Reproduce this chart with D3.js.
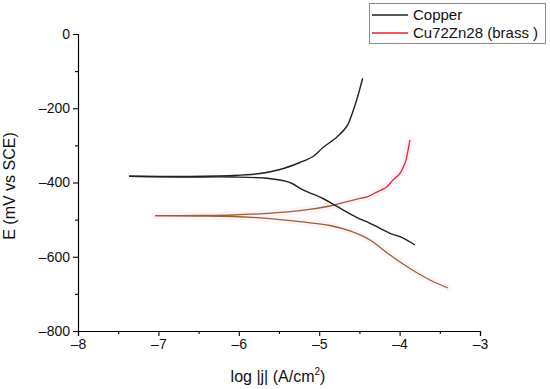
<!DOCTYPE html>
<html>
<head>
<meta charset="utf-8">
<script src="https://cdn.jsdelivr.net/npm/d3@7"></script>
<style>
  html, body { margin: 0; padding: 0; background: #fff; }
  svg { display: block; font-family: "Liberation Sans", Arial, sans-serif; }
</style>
</head>
<body>
<svg id="chart" width="550" height="389"></svg>
<script>
// ---- data (log |j| in A/cm², E in mV vs SCE) ----
const copperAnodicLogJ = [-7.366, -6.731, -6.072, -5.736, -5.488, -5.239, -5.077, -4.953, -4.779, -4.654, -4.604, -4.534, -4.459];
const copperAnodicE    = [-383.3, -383.8, -381.1, -375.8, -365.0, -346.1, -330.0, -305.7, -277.4, -247.8, -222.8, -177.8, -119.3];
const copperCathodicLogJ = [-7.366, -6.731, -6.072, -5.649, -5.400, -5.338, -5.201, -4.953, -4.779, -4.530, -4.368, -4.244, -4.119, -3.995, -3.808];
const copperCathodicE    = [-383.3, -385.2, -385.2, -388.7, -397.8, -402.7, -420.2, -443.1, -464.6, -494.3, -509.9, -523.4, -536.8, -546.0, -568.4];
const brassAnodicLogJ = [-7.042, -6.483, -6.072, -5.649, -5.239, -4.866, -4.654, -4.493, -4.405, -4.244, -4.157, -4.082, -3.995, -3.933, -3.902, -3.883, -3.871];
const brassAnodicE    = [-489.4, -488.9, -487.5, -483.0, -476.0, -463.3, -451.7, -442.6, -439.1, -421.5, -411.3, -393.3, -375.2, -348.3, -321.3, -299.0, -285.5];
const brassCathodicLogJ = [-7.042, -6.483, -6.072, -5.649, -5.239, -4.866, -4.617, -4.368, -4.119, -3.871, -3.622, -3.398];
const brassCathodicE    = [-489.4, -490.2, -491.6, -496.4, -505.6, -515.8, -530.6, -554.9, -595.3, -631.6, -662.6, -684.2];
const brassRedFromLogJ = -4.49;

const xTicks = [-8, -7, -6, -5, -4, -3];
const xMinorTicks = [-7.5, -6.5, -5.5, -4.5, -3.5];
const yTicks = [0, -200, -400, -600, -800];
const yMinorTicks = [-100, -300, -500, -700];
const seriesNames = ["Copper", "Cu72Zn28 (brass )"];
const xTitle = "log |j| (A/cm";
const yTitle = "E (mV vs SCE)";

// ---- drawing ----
const svg = d3.select("#chart");
const x = d3.scaleLinear().domain([-8, -3]).range([78, 480]);
const y = d3.scaleLinear().domain([-800, 0]).range([331, 34]);
const fmt = d => (d < 0 ? "\u2013" + Math.abs(d) : String(d));

const zip = (a, b) => a.map((v, i) => [v, b[i]]);
const lineY = d3.line().x(d => x(d[0])).y(d => y(d[1])).curve(d3.curveCatmullRom.alpha(0.5));

const cuA = zip(copperAnodicLogJ, copperAnodicE);
const cuC = zip(copperCathodicLogJ, copperCathodicE);
const brA = zip(brassAnodicLogJ, brassAnodicE);
const brC = zip(brassCathodicLogJ, brassCathodicE);
const brABrown = brA.filter(d => d[0] <= brassRedFromLogJ + 0.09);
const brARed = brA.filter(d => d[0] >= brassRedFromLogJ);

const plot = svg.append("g");
// very faint pink halo around brass curves
[brA, brC].forEach(d => plot.append("path").datum(d).attr("d", lineY)
  .attr("fill", "none").attr("stroke", "#fef3f8").attr("stroke-width", 7).attr("stroke-linecap", "round"));

plot.append("path").datum(brC).attr("d", lineY).attr("fill", "none").attr("stroke", "#9a6232").attr("stroke-width", 1.3);
plot.append("path").datum(brABrown).attr("d", lineY).attr("fill", "none").attr("stroke", "#9a6232").attr("stroke-width", 1.3);
plot.append("path").datum(brARed).attr("d", lineY).attr("fill", "none").attr("stroke", "#e8242a").attr("stroke-width", 1.3);
plot.append("path").datum(cuC).attr("d", lineY).attr("fill", "none").attr("stroke", "#222").attr("stroke-width", 1.4);
plot.append("path").datum(cuA).attr("d", lineY).attr("fill", "none").attr("stroke", "#222").attr("stroke-width", 1.4);

// axes
svg.append("g").attr("transform", `translate(0,${y(-800)})`)
  .call(d3.axisBottom(x).tickValues(xTicks).tickFormat(fmt).tickSizeOuter(0).tickSize(5).tickPadding(3));
svg.append("g").attr("transform", `translate(0,${y(-800)})`)
  .call(d3.axisBottom(x).tickValues(xMinorTicks).tickFormat("").tickSizeOuter(0).tickSize(3))
  .select(".domain").remove();
svg.append("g").attr("transform", `translate(${x(-8)},0)`)
  .call(d3.axisLeft(y).tickValues(yTicks).tickFormat(fmt).tickSizeOuter(0).tickSize(5).tickPadding(3));
svg.append("g").attr("transform", `translate(${x(-8)},0)`)
  .call(d3.axisLeft(y).tickValues(yMinorTicks).tickFormat("").tickSizeOuter(0).tickSize(3))
  .select(".domain").remove();
svg.selectAll(".domain").attr("stroke", "#000").attr("stroke-width", 1.2);
svg.selectAll(".tick line").attr("stroke", "#000").attr("stroke-width", 1.1);
svg.selectAll(".tick text").attr("font-size", 14).attr("fill", "#111")
  .attr("font-family", "'Liberation Sans', Arial, sans-serif");

// titles
const xt = svg.append("text").attr("x", 278).attr("y", 382).attr("text-anchor", "middle")
  .attr("font-size", 16).attr("fill", "#111");
xt.append("tspan").text(xTitle);
xt.append("tspan").attr("font-size", 10).attr("dy", -7).text("2");
xt.append("tspan").attr("dy", 7).text(")");

svg.append("text").attr("transform", "translate(15,186) rotate(-90)").attr("text-anchor", "middle")
  .attr("font-size", 16).attr("fill", "#111").text(yTitle);

// legend
const lg = svg.append("g");
lg.append("rect").attr("x", 369.5).attr("y", 3.5).attr("width", 176).attr("height", 40)
  .attr("fill", "#fff").attr("stroke", "#8a8a8a").attr("stroke-width", 1);
const legendColors = ["#222", "#e8242a"];
seriesNames.forEach((name, i) => {
  const yy = 15 + i * 18;
  lg.append("line").attr("x1", 372).attr("x2", 408).attr("y1", yy).attr("y2", yy)
    .attr("stroke", legendColors[i]).attr("stroke-width", 1.3);
  lg.append("text").attr("x", 413).attr("y", yy + 5).attr("font-size", 15).attr("fill", "#111").text(name);
});
</script>
</body>
</html>
